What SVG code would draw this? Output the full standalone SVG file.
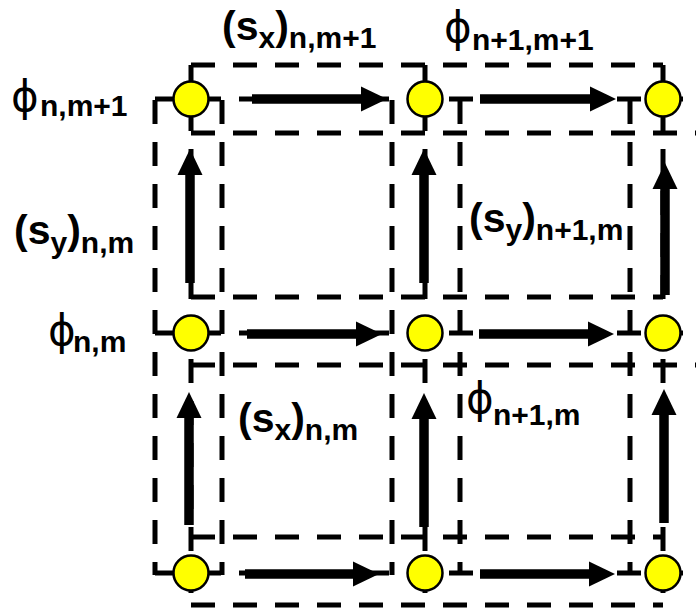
<svg xmlns="http://www.w3.org/2000/svg" width="696" height="614" viewBox="0 0 696 614">
<style>
.d{fill:none;stroke:#000;stroke-width:5;stroke-dasharray:24 18}
.a{fill:none;stroke:#000;stroke-width:9.5}
.n{fill:#FFFF00;stroke:#000;stroke-width:2.5}
.t{font-family:"Liberation Sans",Arial,sans-serif;font-weight:bold;fill:#000}
.big{font-size:41px}
.sub{font-size:30px}
.phi{font-family:"DejaVu Sans",sans-serif;font-weight:normal;font-size:42px;fill:#000}
</style>
<defs>
<marker id="ah" markerUnits="userSpaceOnUse" markerWidth="27" markerHeight="27" viewBox="0 0 27 27" refX="1" refY="13.5" orient="auto">
<path d="M0,1 L26,13.5 L0,26 Z" fill="#000"/>
</marker>
</defs>
<g id="grid">
<path class="d" d="M155,100 V575"/>
<path class="d" d="M392,100 V575"/>
<path class="d" d="M630,100 V575"/>
<path class="d" d="M222,100 V575"/>
<path class="d" d="M460,100 V575"/>
<path class="d" d="M191,65 V605"/>
<path class="d" d="M425,65 V605"/>
<path class="d" d="M663,65 V605"/>
<path class="d" d="M191,65 H663"/>
<path class="d" d="M155,99 H700"/>
<path class="d" d="M191,133 H700"/>
<path class="d" d="M191,297 H663"/>
<path class="d" d="M155,333 H700"/>
<path class="d" d="M191,365 H700"/>
<path class="d" d="M191,537 H663"/>
<path class="d" d="M155,573 H700"/>
<path class="d" d="M191,605 H663"/>
</g>
<g id="connectors">
<path class="a" d="M252,99 H362" marker-end="url(#ah)"/>
<path class="a" d="M480,99 H591" marker-end="url(#ah)"/>
<path class="a" d="M247,334 H357" marker-end="url(#ah)"/>
<path class="a" d="M479,334 H589" marker-end="url(#ah)"/>
<path class="a" d="M245,574 H354" marker-end="url(#ah)"/>
<path class="a" d="M480,574 H590" marker-end="url(#ah)"/>
<path class="a" d="M190,283 V174" marker-end="url(#ah)"/>
<path class="a" d="M424,283 V174" marker-end="url(#ah)"/>
<path class="a" d="M665,295 V188" marker-end="url(#ah)"/>
<path class="a" d="M189,525 V417" marker-end="url(#ah)"/>
<path class="a" d="M424,527 V418" marker-end="url(#ah)"/>
<path class="a" d="M664,523 V414" marker-end="url(#ah)"/>
</g>
<g id="node-n-m1"><circle class="n" cx="191" cy="99" r="17.5"/></g>
<g id="node-n1-m1"><circle class="n" cx="425" cy="99" r="17.5"/></g>
<g id="node-n2-m1"><circle class="n" cx="663" cy="99" r="17.5"/></g>
<g id="node-n-m"><circle class="n" cx="191" cy="333" r="17.5"/></g>
<g id="node-n1-m"><circle class="n" cx="425" cy="333" r="17.5"/></g>
<g id="node-n2-m"><circle class="n" cx="663" cy="333" r="17.5"/></g>
<g id="node-n-m0"><circle class="n" cx="191" cy="573" r="17.5"/></g>
<g id="node-n1-m0"><circle class="n" cx="425" cy="573" r="17.5"/></g>
<g id="node-n2-m0"><circle class="n" cx="663" cy="573" r="17.5"/></g>
<g id="labels">
<text class="t" x="222" y="40"><tspan class="big">(s</tspan><tspan class="sub" dy="8">x</tspan><tspan class="big" dy="-8">)</tspan><tspan class="sub" dy="8">n,m+1</tspan></text>
<text class="phi" x="444" y="42">ϕ</text>
<text class="t sub" x="472" y="50">n+1,m+1</text>
<text class="phi" x="11" y="111">ϕ</text>
<text class="t sub" x="40" y="116">n,m+1</text>
<text class="t" x="14" y="244"><tspan class="big">(s</tspan><tspan class="sub" dy="9">y</tspan><tspan class="big" dy="-9">)</tspan><tspan class="sub" dy="9">n,m</tspan></text>
<text class="phi" x="48" y="345">ϕ</text>
<text class="t sub" x="73" y="352">n,m</text>
<text class="t" x="238" y="432"><tspan class="big">(s</tspan><tspan class="sub" dy="8">x</tspan><tspan class="big" dy="-8">)</tspan><tspan class="sub" dy="8">n,m</tspan></text>
<text class="t" x="469" y="232"><tspan class="big">(s</tspan><tspan class="sub" dy="8">y</tspan><tspan class="big" dy="-8">)</tspan><tspan class="sub" dy="8">n+1,m</tspan></text>
<text class="phi" x="466" y="413">ϕ</text>
<text class="t sub" x="493" y="425">n+1,m</text>
</g>
</svg>
